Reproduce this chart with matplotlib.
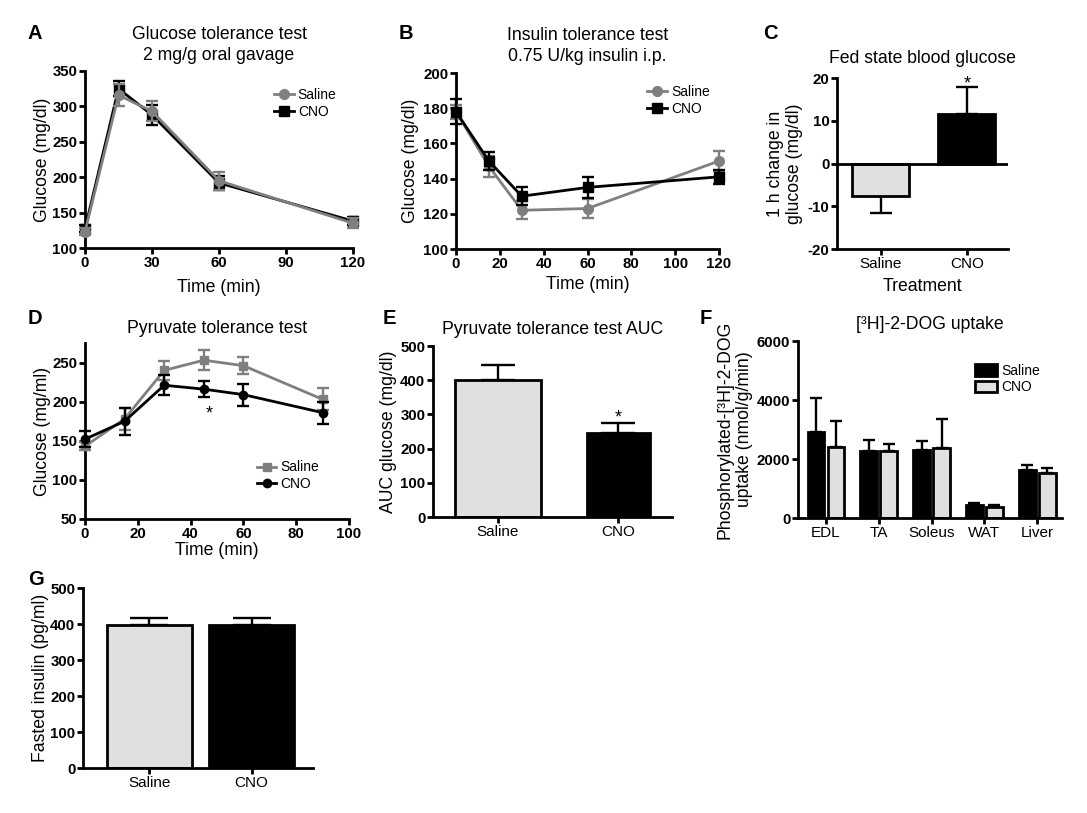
import numpy as np
import matplotlib
matplotlib.use("Agg")
import matplotlib.pyplot as plt

plt.rcParams["font.family"] = ["Liberation Sans", "DejaVu Sans"]
plt.rcParams["axes.unicode_minus"] = False

# --- data ---
gtt_t = [0, 15, 30, 60, 120]
gtt_saline = [123, 316, 293, 195, 135]
gtt_saline_err = [5, 16, 14, 13, 7]
gtt_cno = [127, 325, 288, 192, 138]
gtt_cno_err = [5, 11, 14, 10, 6]

itt_t = [0, 15, 30, 60, 120]
itt_saline = [178, 147, 122, 123, 150]
itt_saline_err = [4, 6, 5, 5.5, 5.5]
itt_cno = [178, 150, 130, 135, 141]
itt_cno_err = [7, 5, 5, 6, 4]

groups = ["Saline", "CNO"]
fed_change = [-7.5, 11.5]
fed_change_err = [4, 6.3]

ptt_t = [0, 15, 30, 45, 60, 90]
ptt_saline = [143, 178, 240, 253, 246, 203]
ptt_saline_err = [5, 14, 12, 13, 11, 14]
ptt_cno = [152, 175, 221, 216, 209, 186]
ptt_cno_err = [10, 17, 13, 10, 14, 14]

ptt_auc = [400, 246]
ptt_auc_err = [44, 30]

tissues = ["EDL", "TA", "Soleus", "WAT", "Liver"]
dog_saline = [2920, 2270, 2310, 440, 1640]
dog_saline_err = [1150, 385, 300, 70, 145]
dog_cno = [2410, 2270, 2360, 375, 1530]
dog_cno_err = [865, 230, 985, 55, 165]

insulin = [397, 396]
insulin_err = [20, 21]

GRAY = "#7f7f7f"
LIGHT = "#e0e0e0"
W, H = 1087, 813
LW = 2.0
FS = 12.7  # titles / axis labels


def axes_px(fig, left, right, top, bottom):
    return fig.add_axes([left / W, 1 - bottom / H, (right - left) / W, (bottom - top) / H])


def style(ax, bold_x=True):
    for s in ["top", "right"]:
        ax.spines[s].set_visible(False)
    for s in ["left", "bottom"]:
        ax.spines[s].set_linewidth(LW)
    ax.tick_params(direction="out", length=4, width=LW, labelsize=10.8, pad=1.5)
    for lab in ax.get_yticklabels():
        lab.set_fontweight("bold")
    if bold_x:
        for lab in ax.get_xticklabels():
            lab.set_fontweight("bold")
    else:
        for lab in ax.get_xticklabels():
            lab.set_fontsize(11)


def letter(fig, x, y, s):
    fig.text(x / W, 1 - y / H, s, fontsize=14.5, fontweight="bold", va="top", ha="left")


def line_series(ax, t, y, err, color, marker, ms, label, z):
    ax.errorbar(t, y, yerr=err, color=color, marker=marker, ms=ms, lw=LW,
                elinewidth=1.7, capsize=4.5, capthick=1.7, label=label,
                zorder=z, clip_on=False)


def legend_lines(ax, anchor, order=(0, 1)):
    h, l = ax.get_legend_handles_labels()
    h = [h[i][0] for i in order]
    l = [l[i] for i in order]
    ax.legend(h, l, loc="upper left", bbox_to_anchor=anchor, frameon=False, fontsize=10,
              handlelength=1.4, handletextpad=0.3, labelspacing=0.2, borderpad=0,
              borderaxespad=0)


fig = plt.figure(figsize=(W / 100, H / 100), dpi=100)

# A - glucose tolerance test
ax = axes_px(fig, 85, 353, 71, 248)
line_series(ax, gtt_t, gtt_cno, gtt_cno_err, "black", "s", 7, "CNO", 3)
line_series(ax, gtt_t, gtt_saline, gtt_saline_err, GRAY, "o", 7, "Saline", 4)
ax.set_xlim(0, 120)
ax.set_ylim(100, 350)
ax.set_xticks([0, 30, 60, 90, 120])
ax.set_yticks(range(100, 351, 50))
ax.set_xlabel("Time (min)", fontsize=FS, labelpad=7)
ax.set_ylabel("Glucose (mg/dl)", fontsize=FS, labelpad=1)
ax.set_title("Glucose tolerance test\n2 mg/g oral gavage", fontsize=FS, pad=8, linespacing=1.3)
legend_lines(ax, (0.706, 0.905), order=(1, 0))
style(ax)
letter(fig, 28, 24, "A")

# B - insulin tolerance test
ax = axes_px(fig, 456, 719, 73, 249)
line_series(ax, itt_t, itt_saline, itt_saline_err, GRAY, "o", 7, "Saline", 3)
line_series(ax, itt_t, itt_cno, itt_cno_err, "black", "s", 7, "CNO", 4)
ax.set_xlim(0, 120)
ax.set_ylim(100, 200)
ax.set_xticks(range(0, 121, 20))
ax.set_yticks(range(100, 201, 20))
ax.set_xlabel("Time (min)", fontsize=FS, labelpad=4)
ax.set_ylabel("Glucose (mg/dl)", fontsize=FS, labelpad=3)
ax.set_title("Insulin tolerance test\n0.75 U/kg insulin i.p.", fontsize=FS, pad=9, linespacing=1.3)
legend_lines(ax, (0.728, 0.932))
style(ax)
letter(fig, 399, 24, "B")

# C - fed state blood glucose
ax = axes_px(fig, 837, 1008, 78, 249)
xc = np.arange(len(groups))
ax.bar(xc, fed_change, width=0.66, color=[LIGHT, "black"], edgecolor="black", linewidth=LW, zorder=2)
ax.errorbar(xc, fed_change, yerr=[[fed_change_err[0], 0], [0, fed_change_err[1]]],
            fmt="none", ecolor="black", elinewidth=1.7, capsize=8, capthick=1.7, zorder=1)
ax.axhline(0, color="black", lw=LW, zorder=3)
ax.text(1, fed_change[1] + fed_change_err[1] - 1.2, "*", ha="center", va="bottom", fontsize=13)
ax.set_xlim(-0.51, 1.48)
ax.set_ylim(-20, 20)
ax.set_yticks(range(-20, 21, 10))
ax.set_xticks(xc)
ax.set_xticklabels(groups)
ax.set_xlabel("Treatment", fontsize=FS, labelpad=5)
ax.set_ylabel("1 h change in\nglucose (mg/dl)", fontsize=FS, labelpad=3, linespacing=1.2)
ax.set_title("Fed state blood glucose", fontsize=FS, pad=11)
style(ax, bold_x=False)
letter(fig, 763, 24, "C")

# D - pyruvate tolerance test
ax = axes_px(fig, 85, 349, 343, 519)
line_series(ax, ptt_t, ptt_saline, ptt_saline_err, GRAY, "s", 6, "Saline", 3)
line_series(ax, ptt_t, ptt_cno, ptt_cno_err, "black", "o", 6, "CNO", 4)
ax.text(47, 174, "*", ha="center", va="bottom", fontsize=13)
ax.set_xlim(0, 100)
ax.set_ylim(50, 275)
ax.set_xticks(range(0, 101, 20))
ax.set_yticks(range(50, 251, 50))
ax.set_xlabel("Time (min)", fontsize=FS, labelpad=1)
ax.set_ylabel("Glucose (mg/ml)", fontsize=FS, labelpad=1)
ax.set_title("Pyruvate tolerance test", fontsize=FS, pad=7)
legend_lines(ax, (0.651, 0.333))
style(ax)
letter(fig, 28, 309, "D")

# E - pyruvate tolerance test AUC
ax = axes_px(fig, 433, 672, 346, 517)
ax.bar(xc, ptt_auc, width=[0.72, 0.53], color=[LIGHT, "black"], edgecolor="black", linewidth=LW, zorder=2)
ax.errorbar(xc, ptt_auc, yerr=[[0, 0], ptt_auc_err], fmt="none", ecolor="black",
            elinewidth=1.7, capsize=12, capthick=1.7, zorder=1)
ax.text(1, ptt_auc[1] + ptt_auc_err[1] - 10, "*", ha="center", va="bottom", fontsize=13)
ax.set_xlim(-0.54, 1.445)
ax.set_ylim(0, 500)
ax.set_yticks(range(0, 501, 100))
ax.set_xticks(xc)
ax.set_xticklabels(groups)
ax.set_ylabel("AUC glucose (mg/dl)", fontsize=FS, labelpad=2)
ax.set_title("Pyruvate tolerance test AUC", fontsize=FS, pad=9)
style(ax, bold_x=False)
letter(fig, 383, 309, "E")

# F - 2-DOG uptake
ax = axes_px(fig, 798, 1062, 341, 518)
xf = np.arange(len(tissues))
bw = 0.32
off = 0.19
ax.bar(xf - off, dog_saline, width=bw, color="black", edgecolor="black", linewidth=LW,
       label="Saline", zorder=2)
ax.bar(xf + off, dog_cno, width=bw, color=LIGHT, edgecolor="black", linewidth=LW,
       label="CNO", zorder=2)
ax.errorbar(xf - off, dog_saline, yerr=[np.zeros(5), dog_saline_err], fmt="none",
            ecolor="black", elinewidth=1.7, capsize=4, capthick=1.7, zorder=1)
ax.errorbar(xf + off, dog_cno, yerr=[np.zeros(5), dog_cno_err], fmt="none",
            ecolor="black", elinewidth=1.7, capsize=4, capthick=1.7, zorder=1)
ax.set_xlim(-0.53, 4.47)
ax.set_ylim(0, 6000)
ax.set_yticks(range(0, 6001, 2000))
ax.set_xticks(xf)
ax.set_xticklabels(tissues)
ax.set_ylabel("Phosphorylated-[³H]-2-DOG\nuptake (nmol/g/min)", fontsize=FS, labelpad=3, linespacing=1.15)
ax.set_title("[³H]-2-DOG uptake", fontsize=FS, pad=9)
ax.legend(loc="upper left", bbox_to_anchor=(0.67, 0.87), frameon=False, fontsize=10,
          handlelength=1.6, handleheight=0.9, handletextpad=0.3, labelspacing=0.15,
          borderpad=0, borderaxespad=0)
style(ax, bold_x=False)
letter(fig, 700, 309, "F")

# G - fasted insulin
ax = axes_px(fig, 83, 313, 588, 768)
ax.bar(xc, insulin, width=0.83, color=[LIGHT, "black"], edgecolor="black", linewidth=LW, zorder=2)
ax.errorbar(xc, insulin, yerr=[[0, 0], insulin_err], fmt="none", ecolor="black",
            elinewidth=1.7, capsize=14, capthick=1.7, zorder=1)
ax.set_xlim(-0.65, 1.6)
ax.set_ylim(0, 500)
ax.set_yticks(range(0, 501, 100))
ax.set_xticks(xc)
ax.set_xticklabels(groups)
ax.set_ylabel("Fasted insulin (pg/ml)", fontsize=FS, labelpad=1)
style(ax, bold_x=False)
letter(fig, 28, 570, "G")

fig.savefig("out.png", dpi=100)
